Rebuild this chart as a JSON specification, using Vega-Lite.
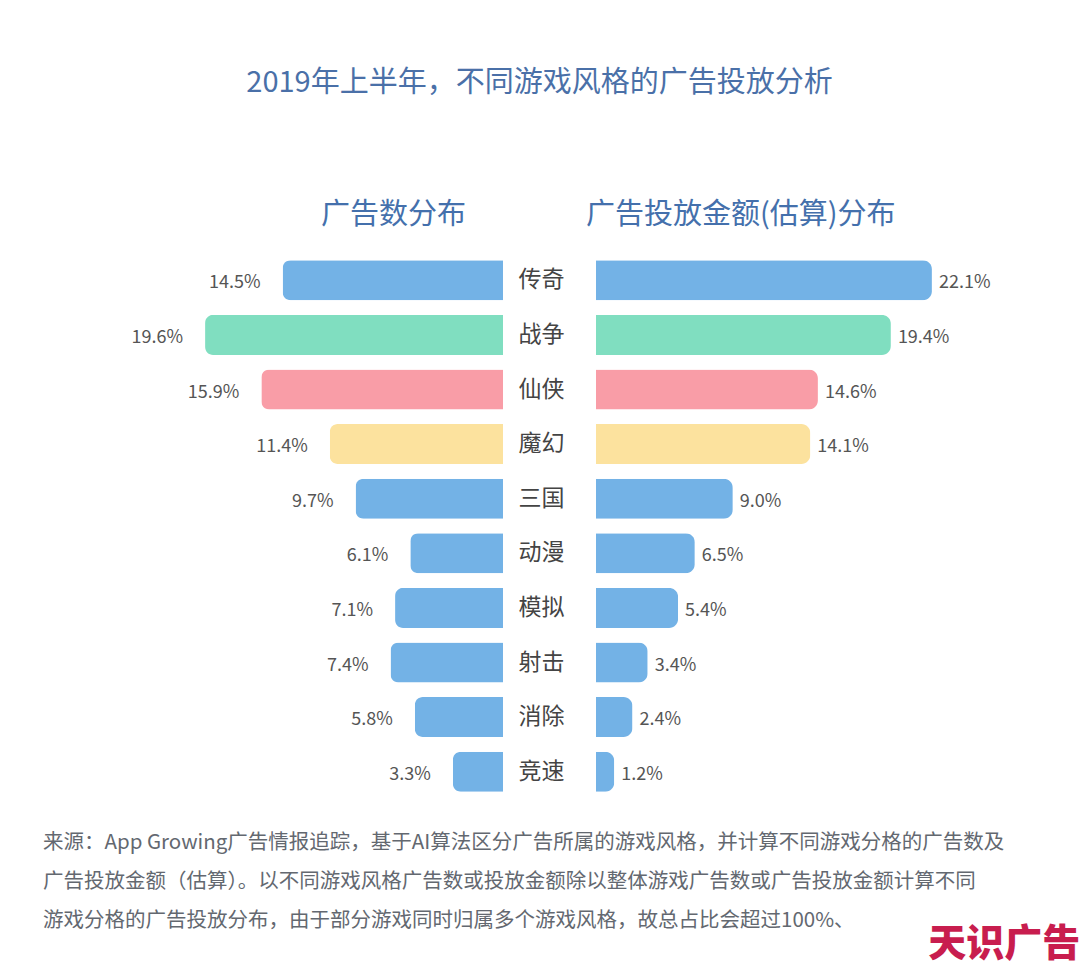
{
  "$schema": "https://vega.github.io/schema/vega-lite/v6.json",
  "background": "white",
  "padding": {"left": 42, "top": 69, "right": 0, "bottom": 0},
  "config": {
    "view": {"stroke": null},
    "font": "Noto Sans CJK SC",
    "title": {"font": "Noto Sans CJK SC", "fontWeight": "normal"}
  },
  "datasets": {
    "games": [
      {"style": "传奇", "count": 0.145, "amount": 0.221},
      {"style": "战争", "count": 0.196, "amount": 0.194},
      {"style": "仙侠", "count": 0.159, "amount": 0.146},
      {"style": "魔幻", "count": 0.114, "amount": 0.141},
      {"style": "三国", "count": 0.097, "amount": 0.090},
      {"style": "动漫", "count": 0.061, "amount": 0.065},
      {"style": "模拟", "count": 0.071, "amount": 0.054},
      {"style": "射击", "count": 0.074, "amount": 0.034},
      {"style": "消除", "count": 0.058, "amount": 0.024},
      {"style": "竞速", "count": 0.033, "amount": 0.012}
    ]
  },
  "title": {
    "text": "天识广告",
    "orient": "bottom",
    "anchor": "end",
    "dx": 76,
    "fontSize": 38,
    "fontWeight": 900,
    "color": "#c81d4e",
    "offset": -6
  },
  "spacing": 0,
  "bounds": "flush",
  "hconcat": [
    {
      "width": 100,
      "height": 546,
      "data": {"values": [{}]},
      "title": {
        "text": [
          "来源：App Growing广告情报追踪，基于AI算法区分广告所属的游戏风格，并计算不同游戏分格的广告数及",
          "广告投放金额（估算）。以不同游戏风格广告数或投放金额除以整体游戏广告数或广告投放金额计算不同",
          "游戏分格的广告投放分布，由于部分游戏同时归属多个游戏风格，故总占比会超过100%、"
        ],
        "orient": "bottom",
        "anchor": "start",
        "frame": "group",
        "fontSize": 20.5,
        "lineHeight": 39,
        "color": "#636870",
        "offset": 34
      },
      "mark": {"type": "rule", "opacity": 0},
      "encoding": {}
    },
    {
      "width": 360,
      "height": 546,
      "data": {"name": "games"},
      "title": {
        "text": "广告数分布",
        "anchor": "start",
        "frame": "group",
        "dx": 178,
        "fontSize": 29,
        "color": "#4470ac",
        "offset": 23
      },
      "encoding": {
        "y": {
          "field": "style",
          "type": "nominal",
          "sort": null,
          "axis": null,
          "scale": {"paddingInner": 0.267, "paddingOuter": 0.1335}
        },
        "x": {
          "field": "count",
          "type": "quantitative",
          "axis": null,
          "scale": {"domain": [0, 0.23684], "reverse": true, "nice": false}
        }
      },
      "layer": [
        {
          "mark": {"type": "bar", "cornerRadiusTopLeft": 8, "cornerRadiusBottomLeft": 8},
          "encoding": {
            "color": {
              "field": "style",
              "type": "nominal",
              "legend": null,
              "scale": {
                "domain": ["传奇", "战争", "仙侠", "魔幻", "三国", "动漫", "模拟", "射击", "消除", "竞速"],
                "range": ["#73b2e6", "#80dec0", "#f99da7", "#fce29e", "#73b2e6", "#73b2e6", "#73b2e6", "#73b2e6", "#73b2e6", "#73b2e6"]
              }
            }
          }
        },
        {
          "mark": {"type": "text", "align": "right", "dx": -22, "dy": 3, "fontSize": 18, "color": "#555555"},
          "encoding": {"text": {"field": "count", "type": "quantitative", "format": ".1%"}}
        }
      ]
    },
    {
      "width": 93,
      "height": 546,
      "data": {"name": "games"},
      "title": {
        "text": "2019年上半年，不同游戏风格的广告投放分析",
        "anchor": "middle",
        "frame": "group",
        "dx": -10,
        "fontSize": 29,
        "color": "#4a70a8",
        "offset": 155
      },
      "mark": {"type": "text", "fontSize": 23, "color": "#444444", "dx": -8},
      "encoding": {
        "y": {
          "field": "style",
          "type": "nominal",
          "sort": null,
          "axis": null,
          "scale": {"paddingInner": 0.267, "paddingOuter": 0.1335}
        },
        "text": {"field": "style", "type": "nominal"}
      }
    },
    {
      "width": 380,
      "height": 546,
      "data": {"name": "games"},
      "title": {
        "text": "广告投放金额(估算)分布",
        "anchor": "start",
        "frame": "group",
        "dx": -10,
        "fontSize": 29,
        "color": "#4470ac",
        "offset": 23
      },
      "encoding": {
        "y": {
          "field": "style",
          "type": "nominal",
          "sort": null,
          "axis": null,
          "scale": {"paddingInner": 0.267, "paddingOuter": 0.1335}
        },
        "x": {
          "field": "amount",
          "type": "quantitative",
          "axis": null,
          "scale": {"domain": [0, 0.25], "nice": false}
        }
      },
      "layer": [
        {
          "mark": {"type": "bar", "cornerRadiusTopRight": 9, "cornerRadiusBottomRight": 9},
          "encoding": {
            "color": {"field": "style", "type": "nominal", "legend": null}
          }
        },
        {
          "mark": {"type": "text", "align": "left", "dx": 7, "dy": 3, "fontSize": 18, "color": "#555555"},
          "encoding": {"text": {"field": "amount", "type": "quantitative", "format": ".1%"}}
        }
      ]
    }
  ]
}
